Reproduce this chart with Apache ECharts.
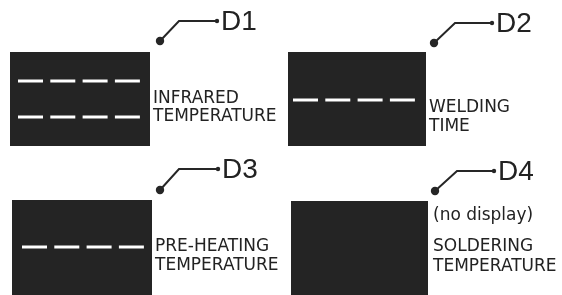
<html>
<head>
<meta charset="utf-8">
<script src="https://cdn.jsdelivr.net/npm/echarts@6/dist/echarts.min.js"></script>
</head>
<body>
<style>
    html, body, #main { width: 100%; height: 100%; margin: 0; background: #fff; }
</style>
<div id="main"></div>
<script>
// content
var displayNames = ['D1', 'D2', 'D3', 'D4'];
var captionLine1 = ['INFRARED', 'WELDING', 'PRE-HEATING', 'SOLDERING'];
var captionLine2 = ['TEMPERATURE', 'TIME', 'TEMPERATURE', 'TEMPERATURE'];
var displayNotes = ['', '', '', '(no display)'];
var dashRows = [2, 1, 1, 0];
var dashesPerRow = 4;

// layout, in pixel units of a 562x295 canvas (y grows downward)
var screens = [[10, 52, 150, 146], [288, 52, 426, 146], [12, 200, 152, 295], [291, 201, 428, 295]];
var rowY = [[81, 117], [100], [247], []];
var dashStart = [18, 293, 22, 0];
var dashPitch = 32.3, dashLen = 25, dashThick = 3;
var dots = [[160, 41], [434, 43], [160, 190], [435, 191]];
var elbows = [[179, 21], [455, 23], [179, 169], [457, 171]];
var leaderEnd = [217, 492, 218, 494];
var captionPos = [[153, 99, 117], [429, 108, 127], [155, 247, 266], [433, 247, 267]];
var notePos = [[0, 0], [0, 0], [0, 0], [433, 216]];

var ink = '#262626';
var capFont = '17px "DejaVu Sans", sans-serif';

function renderPanel(params, api) {
    var i = api.value(0);
    var s = screens[i];
    var p0 = api.coord([s[0], s[1]]);
    var p1 = api.coord([s[2], s[3]]);
    var kids = [{
        type: 'rect',
        shape: { x: p0[0], y: p0[1], width: p1[0] - p0[0], height: p1[1] - p0[1] },
        style: { fill: '#242424' }
    }];
    for (var r = 0; r < dashRows[i]; r++) {
        for (var d = 0; d < dashesPerRow; d++) {
            var a = api.coord([dashStart[i] + d * dashPitch, rowY[i][r]]);
            kids.push({
                type: 'rect',
                shape: { x: a[0], y: a[1] - dashThick / 2, width: dashLen, height: dashThick },
                style: { fill: '#ffffff' }
            });
        }
    }
    var dot = api.coord(dots[i]);
    var elb = api.coord(elbows[i]);
    var tip = api.coord([leaderEnd[i], elbows[i][1]]);
    kids.push({
        type: 'polyline',
        shape: { points: [dot, elb, tip] },
        style: { stroke: ink, lineWidth: 2, fill: null }
    });
    kids.push({ type: 'circle', shape: { cx: dot[0], cy: dot[1], r: 4.2 }, style: { fill: ink } });
    kids.push({ type: 'circle', shape: { cx: tip[0], cy: tip[1], r: 2.2 }, style: { fill: ink } });
    kids.push({
        type: 'text',
        style: {
            x: tip[0] + 4, y: tip[1] + 1, text: displayNames[i],
            fill: '#222', font: '28px "Liberation Sans", Arial, sans-serif',
            verticalAlign: 'middle', align: 'left'
        }
    });
    var c = captionPos[i];
    var l1 = api.coord([c[0], c[1]]);
    var l2 = api.coord([c[0], c[2]]);
    kids.push({
        type: 'text',
        style: { x: l1[0], y: l1[1], text: captionLine1[i], fill: '#222', font: capFont, verticalAlign: 'middle' }
    });
    kids.push({
        type: 'text',
        style: { x: l2[0], y: l2[1], text: captionLine2[i], fill: '#222', font: capFont, verticalAlign: 'middle' }
    });
    if (displayNotes[i]) {
        var n = api.coord(notePos[i]);
        kids.push({
            type: 'text',
            style: { x: n[0], y: n[1], text: displayNotes[i], fill: '#222', font: capFont, verticalAlign: 'middle' }
        });
    }
    return { type: 'group', children: kids };
}

var chart = echarts.init(document.getElementById('main'));
chart.setOption({
    animation: false,
    grid: { left: 0, right: 0, top: 0, bottom: 0 },
    xAxis: { type: 'value', min: 0, max: 562, show: false },
    yAxis: { type: 'value', min: 0, max: 295, inverse: true, show: false },
    series: [{
        type: 'custom',
        renderItem: renderPanel,
        data: displayNames.map(function (n, i) { return [i]; }),
        clip: false
    }]
});
</script>
</body>
</html>
